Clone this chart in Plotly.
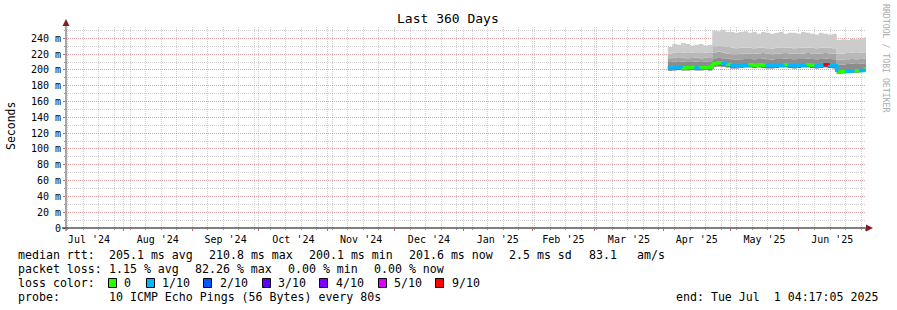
import pandas as pd
import plotly.graph_objects as go

# ---------------- data ----------------
end_time = "2025-07-01 04:17:05"
start_time = "2024-07-06 04:17:05"
sample_dates = list(pd.date_range("2025-04-03", periods=45, freq="2D"))

rtt_min = [199, 199.5, 200, 199.5, 199.5, 200, 199.5, 199.5, 200, 199.5,
           204, 204.5, 204, 203, 202, 202, 202.5, 203, 203, 202.5, 203, 202.5, 202, 202,
           202.5, 203, 203, 202.5, 202, 202.5, 203, 203, 202.5, 202, 202.5, 203, 202.5, 202,
           195, 195.5, 196, 196.5, 196.5, 197, 198]
median = [202.5, 203, 203, 202.5, 203, 203, 202.5, 203, 203, 203,
          208, 209, 208, 207, 205.5, 205, 205.5, 206,
          206.5, 206, 206.5, 206, 205.5, 205.5, 206, 206, 206.5, 206, 205.5, 206, 206, 206.5,
          206, 205.5, 206, 206.5, 206, 205.5,
          197.5, 198, 198.5, 199, 199, 199.5, 201.6]
rtt_q1 = [210, 210.5, 211, 210.5, 210, 211, 210.5, 210, 210.5, 211,
          215, 216, 215, 214.5, 213.5, 213, 213.5, 214, 214, 213.5, 214, 214.5, 213.5, 213,
          214, 214, 214.5, 214, 213.5, 214, 214, 214.5, 214, 213.5, 214, 214.5, 214, 213.5,
          207, 207, 207.5, 208, 207.5, 208, 208.5]
rtt_q2 = [215, 215.5, 216, 215.5, 215, 216, 215.5, 215, 215.5, 216,
          222, 223, 222, 221, 220, 220, 220.5, 221, 221, 220.5, 221, 221.5, 220.5, 220,
          221, 221, 221.5, 221, 220.5, 221, 221, 221.5, 221, 220.5, 221, 221.5, 221, 220.5,
          213, 213, 213.5, 214, 213.5, 214, 214.5]
rtt_q3 = [221, 222, 222.5, 222, 221.5, 222, 222.5, 221.5, 222, 222.5,
          230, 231, 230, 229, 228, 227.5, 228, 228.5, 228, 227.5, 228, 228.5, 227.5, 227,
          228, 228, 228.5, 228, 227.5, 228, 228, 228.5, 228, 227.5, 228, 228.5, 228, 227.5,
          221, 221, 221.5, 222, 221.5, 222, 222.5]
rtt_max = [229, 233, 232, 234, 233, 231, 232, 233, 231, 232,
           250, 249, 251, 248, 248, 247, 248, 249, 247, 248, 246, 248, 247, 246,
           247, 248, 246, 247, 247, 246, 248, 247, 246, 245, 247, 246, 245, 246,
           238, 239, 238, 240, 239, 240, 241]
loss_tenths = [1, 1, 1, 0, 0, 0, 1, 0, 0, 0,
               0, 0, 1, 0, 1, 1, 1, 1, 0, 0, 0, 0, 1, 1, 1, 1, 0, 1, 1, 1, 1,
               0, 0, 1, 1, 9, 1, 1,
               0, 0, 1, 1, 0, 1, 0]

y_ticks = [0, 20, 40, 60, 80, 100, 120, 140, 160, 180, 200, 220, 240]
y_ticktext = ["0"] + [f"{v} m" for v in y_ticks[1:]]

loss_levels = [0, 1, 2, 3, 4, 5, 9]
loss_labels = ["0", "1/10", "2/10", "3/10", "4/10", "5/10", "9/10"]
loss_colors = ["#26ff00", "#00b8ff", "#0059ff", "#5e00ff", "#7e00ff", "#dd00ff", "#ff0000"]

# legend rows: (text, x pixel)
row_rtt = [("median rtt:", 16), ("205.1 ms avg", 107.3), ("210.8 ms max", 207.3),
           ("200.1 ms min", 306.7), ("201.6 ms now", 406.7), ("2.5 ms sd", 506.7),
           ("83.1", 586.7), ("am/s", 635)]
row_loss = [("packet loss:", 16), ("1.15 % avg", 107.3), ("82.26 % max", 193.3),
            ("0.00 % min", 286), ("0.00 % now", 371.7)]
row_probe = [("probe:", 16), ("10 ICMP Echo Pings (56 Bytes) every 80s", 107.3)]
end_line = "end: Tue Jul  1 04:17:05 2025"

# ---------------- geometry ----------------
W, H = 897, 310
L, R, T, B = 66, 866, 27, 228
FONT = "DejaVu Sans Mono"


def px(x):
    return (x - L) / (R - L)


def py(y):
    return (B - y) / (B - T)


xs = sample_dates + [pd.Timestamp(end_time)]


def ext(v):
    return list(v) + [v[-1]]


fig = go.Figure()

bands = [
    (rtt_min, None, None),
    (median, "#727272", "tonexty"),
    (rtt_q1, "#8c8c8c", "tonexty"),
    (rtt_q2, "#a4a4a4", "tonexty"),
    (rtt_q3, "#b9b9b9", "tonexty"),
    (rtt_max, "#cccccc", "tonexty"),
]
for vals, col, fill in bands:
    fig.add_trace(go.Scatter(
        x=xs, y=ext(vals), mode="lines", line=dict(width=0, shape="hv"),
        fill=fill, fillcolor=col, hoverinfo="skip", showlegend=False))

# median colored by loss
for lvl, col in zip(loss_levels, loss_colors):
    sx, sy = [], []
    for i, lv in enumerate(loss_tenths):
        if lv != lvl:
            continue
        nxt = median[i + 1] if i + 1 < len(median) else median[i]
        sx += [xs[i], xs[i + 1], xs[i + 1], None]
        sy += [median[i], median[i], nxt, None]
    if sx:
        fig.add_trace(go.Scatter(x=sx, y=sy, mode="lines",
                                 line=dict(color=col, width=3.5),
                                 hoverinfo="skip", showlegend=False))

GRID = "rgba(150,150,150,0.45)"
MGRID = "rgba(240,110,110,0.45)"

fig.update_xaxes(
    type="date", range=[start_time, end_time],
    dtick="M1", tick0="2024-07-01", tickformat="%b '%y", ticklabelmode="period",
    showgrid=True, gridcolor=MGRID, griddash="1px,1px", gridwidth=1,
    ticks="outside", ticklen=2, tickcolor="#e06060",
    tickfont=dict(family=FONT, size=10, color="#000"),
    minor=dict(dtick=7 * 86400000, tick0="2024-07-07", showgrid=True,
               gridcolor=GRID, griddash="1px,1px", ticks="outside", ticklen=1,
               tickcolor="#999"),
    showline=False, zeroline=False, fixedrange=True,
)
fig.update_yaxes(
    range=[0, 254.4], tickvals=y_ticks, ticktext=y_ticktext,
    showgrid=True, gridcolor=MGRID, griddash="1px,1px",
    ticks="outside", ticklen=2, tickcolor="#e06060",
    tickfont=dict(family=FONT, size=10, color="#000"),
    minor=dict(dtick=10, tick0=0, showgrid=True, gridcolor=GRID,
               griddash="1px,1px", ticks="outside", ticklen=1, tickcolor="#999"),
    showline=False, zeroline=False, fixedrange=True,
)

shapes = [
    dict(type="line", xref="paper", yref="paper", x0=px(62), x1=px(869), y0=py(228), y1=py(228),
         line=dict(color="#000", width=1)),
    dict(type="line", xref="paper", yref="paper", x0=px(66), x1=px(66), y0=py(231), y1=py(25),
         line=dict(color="#505050", width=1)),
    dict(type="path", xref="paper", yref="paper",
         path=f"M {px(866)},{py(224.5)} L {px(873)},{py(228)} L {px(866)},{py(231.5)} Z",
         fillcolor="#7f1f1f", line=dict(width=0)),
    dict(type="path", xref="paper", yref="paper",
         path=f"M {px(62.5)},{py(26)} L {px(66)},{py(19)} L {px(69.5)},{py(26)} Z",
         fillcolor="#7f1f1f", line=dict(width=0)),
]

annotations = [
    dict(text="Last 360 Days", x=px(448), y=py(19), xref="paper", yref="paper",
         showarrow=False, xanchor="center", yanchor="middle",
         font=dict(family=FONT, size=13, color="#000")),
    dict(text="Seconds", x=px(11), y=py(126), xref="paper", yref="paper",
         showarrow=False, xanchor="center", yanchor="middle", textangle=-90,
         font=dict(family=FONT, size=11.5, color="#000")),
    dict(text="RRDTOOL / TOBI OETIKER", x=px(886), y=py(59), xref="paper", yref="paper",
         showarrow=False, xanchor="center", yanchor="middle", textangle=90,
         font=dict(family=FONT, size=8.2, color="#ababab")),
]


def txt_ann(txt, x, y, anchor="left"):
    return dict(text=txt.replace(" ", "&nbsp;"), x=px(x), y=py(y), xref="paper", yref="paper",
                showarrow=False, xanchor=anchor, yanchor="middle",
                font=dict(family=FONT, size=11.6, color="#000"))


for row, yy in [(row_rtt, 254.5), (row_loss, 268.5), (row_probe, 296.5)]:
    for t, x in row:
        annotations.append(txt_ann(t, x, yy))
annotations.append(txt_ann("loss color:", 16, 282.5))
annotations.append(txt_ann(end_line, 880, 296.5, "right"))

sq_x = [108, 146, 203, 262, 319, 378, 435]
lab_x = [122, 160, 218, 276, 334, 392, 450]
for sx0, lx, lab, col in zip(sq_x, lab_x, loss_labels, loss_colors):
    shapes.append(dict(type="rect", xref="paper", yref="paper",
                       x0=px(sx0 + 0.5), x1=px(sx0 + 8.5), y0=py(278.5), y1=py(287.5),
                       fillcolor=col, line=dict(color="#000", width=1)))
    annotations.append(txt_ann(lab, lx, 282.5))

fig.update_layout(
    width=W, height=H,
    margin=dict(l=L, r=W - R, t=T, b=H - B, pad=0),
    paper_bgcolor="#ffffff", plot_bgcolor="#ffffff",
    showlegend=False, shapes=shapes, annotations=annotations,
)

fig.write_html("out.html", config={"displayModeBar": False})
